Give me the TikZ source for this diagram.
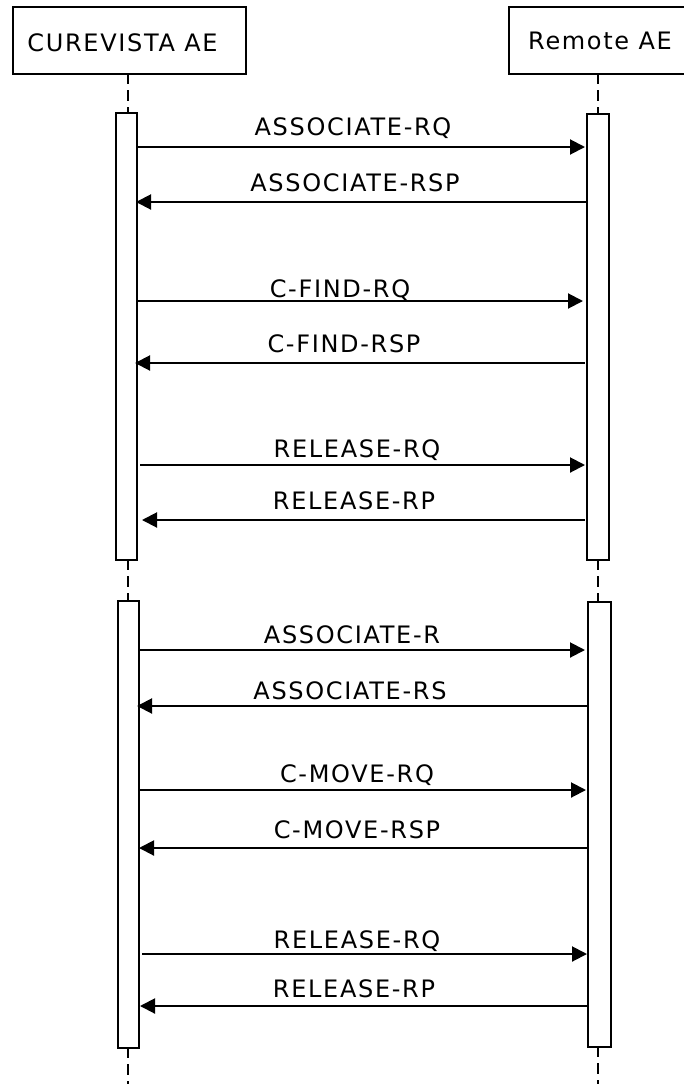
\documentclass[tikz,border=0pt]{standalone}
\usepackage{fontspec}
\setmainfont{DejaVu Sans}[LetterSpace=7]
\usetikzlibrary{arrows.meta}
\begin{document}
\begin{tikzpicture}[x=1pt,y=-1pt,
  actor/.style={draw,line width=2.4pt},
  bar/.style={draw,line width=2.4pt,fill=white},
  life/.style={line width=2.6pt,dash pattern=on 11pt off 6pt},
  msg/.style={line width=2pt,-{Triangle[length=15pt,width=15pt]}},
  lbl/.style={anchor=base,inner sep=0pt,font=\fontsize{24}{28}\selectfont}]
\useasboundingbox (0,0) rectangle (683,1084);
% actor boxes
\node[actor,minimum width=233pt,minimum height=67pt,anchor=north west,inner sep=0pt] (A) at (12,6) {};
\node[lbl] (At) at (122.5,51) {CUREVISTA AE};
\node[actor,minimum width=180pt,minimum height=67pt,anchor=north west,inner sep=0pt] (B) at (508,6) {};
\node[lbl] (Bt) at (600,49) {Remote AE};
% lifeline coordinates
\coordinate (La0) at (128,73);
\coordinate (La1) at (128,112);
\coordinate (La2) at (128,559);
\coordinate (La3) at (128,600);
\coordinate (La4) at (128,1047);
\coordinate (La5) at (128,1084);
\coordinate (Lb0) at (598,73);
\coordinate (Lb1) at (598,113);
\coordinate (Lb2) at (598,559);
\coordinate (Lb3) at (598,601);
\coordinate (Lb4) at (598,1046);
\coordinate (Lb5) at (598,1084);
\draw[life] (La0) -- (La1);
\draw[life] (La2) -- (La3);
\draw[life] (La4) -- (La5);
\draw[life] (Lb0) -- (Lb1);
\draw[life] (Lb2) -- (Lb3);
\draw[life] (Lb4) -- (Lb5);
% activation bars
\node[bar,anchor=north west,minimum width=21pt,minimum height=447pt,inner sep=0pt] (a1) at (115,112) {};
\node[bar,anchor=north west,minimum width=21pt,minimum height=447pt,inner sep=0pt] (a2) at (117,600) {};
\node[bar,anchor=north west,minimum width=22pt,minimum height=446pt,inner sep=0pt] (b1) at (586,113) {};
\node[bar,anchor=north west,minimum width=23pt,minimum height=445pt,inner sep=0pt] (b2) at (587,601) {};
% message end points
\coordinate (m1s) at (138,147);  \coordinate (m1e) at (585,147);
\coordinate (m2s) at (586,202);  \coordinate (m2e) at (136,202);
\coordinate (m3s) at (136,301);  \coordinate (m3e) at (583,301);
\coordinate (m4s) at (585,363);  \coordinate (m4e) at (135,363);
\coordinate (m5s) at (140,465);  \coordinate (m5e) at (585,465);
\coordinate (m6s) at (585,520);  \coordinate (m6e) at (142,520);
\coordinate (m7s) at (138,650);  \coordinate (m7e) at (585,650);
\coordinate (m8s) at (587,706);  \coordinate (m8e) at (137,706);
\coordinate (m9s) at (140,790);  \coordinate (m9e) at (586,790);
\coordinate (m10s) at (587,848); \coordinate (m10e) at (139,848);
\coordinate (m11s) at (142,954); \coordinate (m11e) at (587,954);
\coordinate (m12s) at (587,1006);\coordinate (m12e) at (140,1006);
\foreach \i in {1,...,12} {\draw[msg] (m\i s) -- (m\i e);}
% labels
\node[lbl] (t1) at (353,135) {ASSOCIATE-RQ};
\node[lbl] (t2) at (355,191) {ASSOCIATE-RSP};
\node[lbl] (t3) at (340,297) {C-FIND-RQ};
\node[lbl] (t4) at (344,352) {C-FIND-RSP};
\node[lbl] (t5) at (357,457) {RELEASE-RQ};
\node[lbl] (t6) at (354,509) {RELEASE-RP};
\node[lbl] (t7) at (352,643) {ASSOCIATE-R};
\node[lbl] (t8) at (350,699) {ASSOCIATE-RS};
\node[lbl] (t9) at (357,782) {C-MOVE-RQ};
\node[lbl] (t10) at (357,838) {C-MOVE-RSP};
\node[lbl] (t11) at (357,948) {RELEASE-RQ};
\node[lbl] (t12) at (354,997) {RELEASE-RP};
\end{tikzpicture}
\end{document}
